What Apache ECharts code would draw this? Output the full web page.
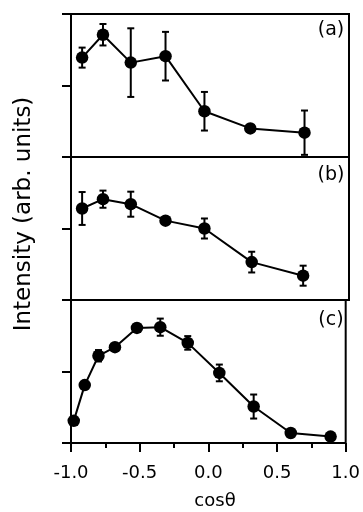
<!DOCTYPE html>
<html>
<head>
<meta charset="utf-8">
<script src="https://cdn.jsdelivr.net/npm/echarts@6/dist/echarts.min.js"></script>
<style>
html,body{margin:0;padding:0;background:#fff;}
#chart{width:363px;height:512px;}
</style>
</head>
<body>
<div id="chart"></div>
<script>
// Panel (a)
const xA = [-0.92, -0.77, -0.57, -0.32, -0.04, 0.29, 0.68];
const yA = [1.39, 1.71, 1.32, 1.41, 0.64, 0.40, 0.34];
const eA = [0.14, 0.15, 0.48, 0.34, 0.27, 0.04, 0.31];
// Panel (b)
const xB = [-0.92, -0.77, -0.57, -0.32, -0.04, 0.30, 0.67];
const yB = [1.28, 1.41, 1.34, 1.11, 1.00, 0.53, 0.34];
const eB = [0.23, 0.12, 0.175, 0.0, 0.14, 0.145, 0.14];
// Panel (c)
const xC = [-0.98, -0.90, -0.80, -0.68, -0.52, -0.35, -0.15, 0.08, 0.33, 0.60, 0.89];
const yC = [0.31, 0.81, 1.22, 1.34, 1.61, 1.62, 1.40, 0.98, 0.51, 0.14, 0.09];
const eC = [0, 0, 0.08, 0, 0, 0.12, 0.095, 0.117, 0.168, 0, 0];

const panelLabels = ['(a)', '(b)', '(c)'];
const xTitle = 'cosθ';
const yTitle = 'Intensity (arb. units)';

const FONT = 'DejaVu Sans';
const chart = echarts.init(document.getElementById('chart'));

function pairs(xs, ys) { return xs.map((x, i) => [x, ys[i]]); }
function errData(xs, ys, es) {
  const out = [];
  xs.forEach((x, i) => { if (es[i] > 0) out.push([x, ys[i] - es[i], ys[i] + es[i]]); });
  return out;
}

function errRender(params, api) {
  const x = api.value(0), lo = api.value(1), hi = api.value(2);
  const t = api.coord([x, hi]), b = api.coord([x, lo]);
  const w = 3.5;
  const st = { stroke: '#000', lineWidth: 2, fill: null };
  return {
    type: 'group',
    children: [
      { type: 'line', shape: { x1: t[0], y1: t[1], x2: b[0], y2: b[1] }, style: st },
      { type: 'line', shape: { x1: t[0] - w, y1: t[1], x2: t[0] + w, y2: t[1] }, style: st },
      { type: 'line', shape: { x1: b[0] - w, y1: b[1], x2: b[0] + w, y2: b[1] }, style: st }
    ]
  };
}

const tops = [14, 157, 300];
const H = 143;
const grids = tops.map(t => ({
  left: 71, right: 14, top: t, height: H, show: true,
  borderColor: '#000', borderWidth: 2, backgroundColor: 'transparent'
}));

const xAxes = [0, 1, 2].map(i => ({
  type: 'value', gridIndex: i, min: -1, max: 1, interval: 0.5, position: 'bottom',
  axisLine: { show: false, onZero: false },
  axisTick: { show: i === 2, inside: false, length: 9, lineStyle: { color: '#000', width: 2 } },
  minorTick: { show: i === 2, splitNumber: 2, length: 5, lineStyle: { color: '#000', width: 2 } },
  axisLabel: {
    show: i === 2, margin: 21, color: '#000', fontFamily: FONT, fontSize: 18,
    formatter: v => v.toFixed(1)
  },
  splitLine: { show: false }
}));

const yAxes = [0, 1, 2].map(i => ({
  type: 'value', gridIndex: i, min: 0, max: 2, interval: 1, position: 'left',
  axisLine: { show: false, onZero: false },
  axisTick: { show: true, inside: false, length: 9, lineStyle: { color: '#000', width: 2 } },
  axisLabel: { show: false },
  splitLine: { show: false }
}));

const sets = [[xA, yA, eA], [xB, yB, eB], [xC, yC, eC]];
const series = [];
sets.forEach((s, i) => {
  series.push({
    type: 'custom', xAxisIndex: i, yAxisIndex: i,
    renderItem: errRender, data: errData(s[0], s[1], s[2]),
    encode: { x: 0, y: [1, 2] }, clip: false, z: 2, silent: true
  });
  series.push({
    type: 'line', xAxisIndex: i, yAxisIndex: i,
    data: pairs(s[0], s[1]),
    symbol: 'circle', symbolSize: 12.5, showSymbol: true,
    itemStyle: { color: '#000' },
    lineStyle: { color: '#000', width: 2 },
    z: 3, silent: true, animation: false, clip: false
  });
});

const labelPos = [30, 175, 320];
const graphic = panelLabels.map((t, i) => ({
  type: 'text', x: 331, y: labelPos[i],
  style: { text: t, fontFamily: FONT, fontSize: 19, fill: '#000', textAlign: 'center', textVerticalAlign: 'middle' }
}));
graphic.push({
  type: 'text', x: 24, y: 214, rotation: Math.PI / 2,
  style: { text: yTitle, fontFamily: FONT, fontSize: 23, fill: '#000', textAlign: 'center', textVerticalAlign: 'middle' }
});
graphic.push({
  type: 'text', x: 215, y: 501,
  style: { text: xTitle, fontFamily: FONT, fontSize: 18, fill: '#000', textAlign: 'center', textVerticalAlign: 'middle' }
});

chart.setOption({
  animation: false,
  backgroundColor: '#fff',
  grid: grids,
  xAxis: xAxes,
  yAxis: yAxes,
  series: series,
  graphic: graphic
});
</script>
</body>
</html>
